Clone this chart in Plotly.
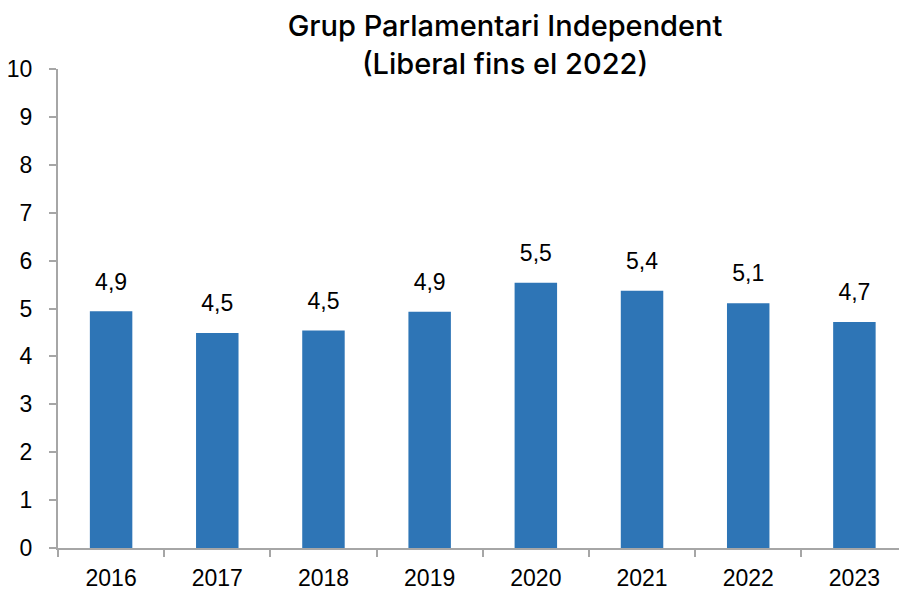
import plotly.graph_objects as go

years = ["2016", "2017", "2018", "2019", "2020", "2021", "2022", "2023"]
values = [4.94, 4.49, 4.54, 4.93, 5.54, 5.37, 5.11, 4.72]
labels = [f"{v:.1f}".replace(".", ",") for v in values]
title_text = "Grup Parlamentari Independent<br>(Liberal fins el 2022)"

FONT = "Liberation Sans, Arial, sans-serif"
TITLE_FONT = "Inter, Liberation Sans, sans-serif"
AXIS_COLOR = "#A6A6A6"

fig = go.Figure()
fig.add_trace(go.Bar(x=years, y=values, marker_color="#2E75B6",
                     marker_line_width=0, width=0.4, hoverinfo="skip"))
fig.add_trace(go.Scatter(x=years, y=values, mode="markers+text", text=labels,
                         textposition="top center",
                         marker=dict(size=24, opacity=0),
                         textfont=dict(family=FONT, size=23, color="#000000"),
                         hoverinfo="skip", cliponaxis=False))

fig.update_layout(
    width=899, height=590,
    margin=dict(l=58, r=0, t=69, b=42, autoexpand=False),
    paper_bgcolor="white", plot_bgcolor="white",
    showlegend=False,
    title=dict(text=title_text, x=505/899, xanchor="center", xref="container",
               yref="container", y=1 - 36/590, yanchor="middle",
               font=dict(family=TITLE_FONT, size=29, color="#000000", weight=500)),
)
fig.update_xaxes(
    type="category", range=[-0.5, 7.42],
    showline=True, linecolor=AXIS_COLOR, linewidth=2,
    ticks="outside", tickson="boundaries", ticklen=7, tickcolor=AXIS_COLOR, tickwidth=2,
    showgrid=False, zeroline=False,
    tickfont=dict(family=FONT, size=23, color="#000000"),
    ticklabelstandoff=8,
)
fig.update_yaxes(
    range=[0, 10], dtick=1, tick0=0,
    showline=True, linecolor=AXIS_COLOR, linewidth=2,
    ticks="outside", ticklen=7, tickcolor=AXIS_COLOR, tickwidth=2,
    showgrid=False, zeroline=False,
    tickfont=dict(family=FONT, size=23, color="#000000"),
    ticklabelstandoff=12,
)

fig.write_html("out.html", config={"displayModeBar": False},
               post_script="document.body.style.margin='0';")
